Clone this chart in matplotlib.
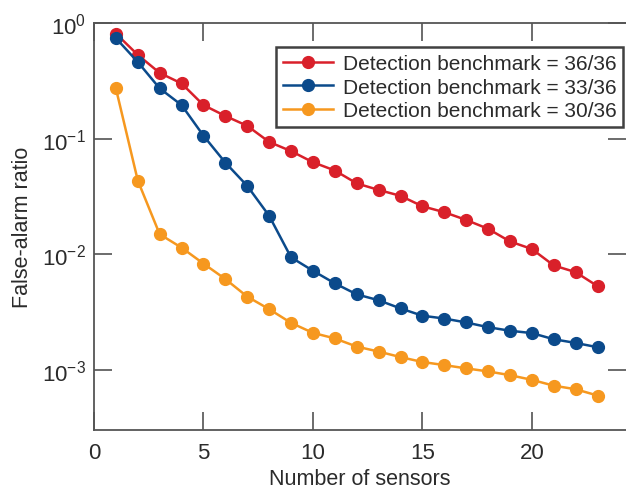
import numpy as np
import matplotlib
matplotlib.use("Agg")
import matplotlib.pyplot as plt
from matplotlib.ticker import LogLocator, NullLocator

plt.rcParams['font.family'] = ['Liberation Sans', 'DejaVu Sans']
plt.rcParams['mathtext.default'] = 'regular'

sensors = np.arange(1, 24)
bench_36 = [0.81, 0.53, 0.37, 0.30, 0.195, 0.157, 0.129, 0.0936, 0.078, 0.0625,
            0.053, 0.041, 0.036, 0.032, 0.026, 0.0231, 0.0198, 0.0166, 0.0129,
            0.0111, 0.0080, 0.0070, 0.0053]
bench_33 = [0.74, 0.46, 0.272, 0.195, 0.106, 0.062, 0.039, 0.0215, 0.0094, 0.0072,
            0.0056, 0.0045, 0.0040, 0.0034, 0.00294, 0.00278, 0.00257, 0.00234,
            0.00218, 0.00208, 0.00184, 0.00171, 0.00157]
bench_30 = [0.272, 0.0434, 0.0149, 0.0114, 0.0083, 0.0061, 0.0043, 0.00335, 0.00255,
            0.00209, 0.00187, 0.00159, 0.00144, 0.00129, 0.00117, 0.0011, 0.00103,
            0.00097, 0.00090, 0.00082, 0.00073, 0.00068, 0.00060]
labels = ['Detection benchmark = 36/36', 'Detection benchmark = 33/36',
          'Detection benchmark = 30/36']
colors = ['#d9202a', '#0b4a8b', '#f6981f']

txt = '#2b2b2b'
fig = plt.figure(figsize=(6.26, 4.89), dpi=100)
ax = fig.add_axes([94 / 626, 1 - 431 / 489, 1 - 94 / 626, (431 - 24) / 489])

for ys, lab, c in zip([bench_36, bench_33, bench_30], labels, colors):
    ax.plot(sensors, ys, '-o', color=c, lw=1.8, ms=8.5, label=lab)

ax.set_yscale('log')
ax.set_xlim(0, 24.3)
ax.set_ylim(10 ** -3.52, 1)
ax.set_xticks([0, 5, 10, 15, 20])
ax.yaxis.set_major_locator(LogLocator(base=10, numticks=10))
ax.yaxis.set_minor_locator(NullLocator())

for s in ax.spines.values():
    s.set_color('#555555')
    s.set_linewidth(1.3)
ax.spines['right'].set_visible(False)
ax.tick_params(direction='in', length=13, width=1.1, color='#444444',
               top=True, right=True, labelsize=16, labelcolor=txt)
ax.tick_params(axis='x', pad=9)
ax.tick_params(axis='y', pad=6)

ax.set_xlabel('Number of sensors', fontsize=15.5, color=txt, labelpad=3)
ax.set_ylabel('False-alarm ratio', fontsize=15.5, color=txt, labelpad=6)

leg = ax.legend(loc='upper right', bbox_to_anchor=(0.995, 0.94), fontsize=15,
                frameon=True, fancybox=False, handlelength=2.4,
                borderaxespad=0, labelspacing=0.22, handletextpad=0.5,
                borderpad=0.32)
leg.get_frame().set_edgecolor('#111111')
leg.get_frame().set_linewidth(1.8)
for t in leg.get_texts():
    t.set_color(txt)

fig.savefig('out.png', dpi=100)
